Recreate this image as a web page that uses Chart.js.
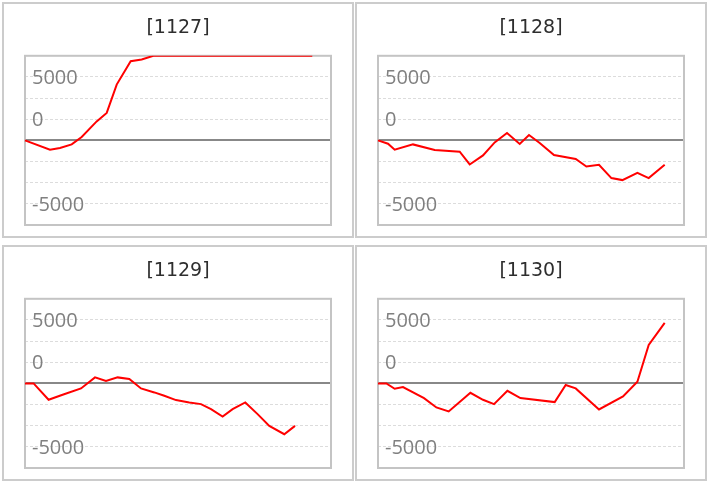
<!DOCTYPE html>
<html>
<head>
<meta charset="utf-8">
<script src="https://cdn.jsdelivr.net/npm/chart.js@4/dist/chart.umd.min.js"></script>
<style>
  html, body { margin: 0; padding: 0; background: #fff; }
  body { width: 709px; height: 485px; position: relative; overflow: hidden; }
  .panel { position: absolute; width: 348px; height: 232px; border: 2px solid #cccccc; background: #fff; }
  .panel canvas { display: block; }
</style>
</head>
<body>
<div class="panel" style="left:2px;top:2px"><canvas id="c0" width="348" height="232"></canvas></div>
<div class="panel" style="left:355px;top:2px"><canvas id="c1" width="348" height="232"></canvas></div>
<div class="panel" style="left:2px;top:245px"><canvas id="c2" width="348" height="232"></canvas></div>
<div class="panel" style="left:355px;top:245px"><canvas id="c3" width="348" height="232"></canvas></div>
<script>
// ---- data (games played vs. coin difference) ----
const titles = ['[1127]', '[1128]', '[1129]', '[1130]'];

const games1127 = [0, 735, 1029, 1373, 1667, 2108, 2403, 2697, 3108, 3432, 3775, 8450];
const diff1127  = [0, -735, -600, -316, 268, 1500, 2165, 4400, 6240, 6375, 6667, 6667];

const games1128 = [0, 294, 491, 1029, 1667, 2403, 2697, 3088, 3432, 3794, 4168, 4441, 4756, 5176, 5815, 6129, 6500, 6865, 7188, 7629, 7962, 8432];
const diff1128  = [0, -260, -735, -316, -758, -893, -1896, -1185, -158, 585, -284, 427, -205, -1153, -1469, -2054, -1920, -2970, -3128, -2552, -2970, -1920];

const games1129 = [0, 253, 694, 1106, 1647, 2059, 2382, 2724, 3068, 3412, 3804, 4097, 4441, 4832, 5176, 5471, 5812, 6106, 6479, 6841, 7185, 7626, 7941];
const diff1129  = [0, 0, -1290, -895, -395, 474, 184, 474, 342, -395, -711, -974, -1316, -1501, -1632, -2027, -2607, -2027, -1501, -2422, -3345, -4002, -3345];

const games1130 = [0, 247, 491, 735, 1353, 1717, 2079, 2718, 3088, 3412, 3806, 4188, 5197, 5521, 5815, 6500, 7206, 7629, 7962, 8432];
const diff1130  = [0, 0, -421, -290, -1158, -1896, -2212, -737, -1290, -1632, -580, -1158, -1474, -131, -395, -2054, -1027, 132, 3027, 4766];

const gridValues = [-6667, -5000, -3333, -1667, 0, 1667, 3333, 5000, 6667];
const tickValues = [5000, 1667, -5000];
const tickLabels = ['5000', '0', '-5000'];

const yMin = -6667, yMax = 6667;
const xMin = 0, xMax = 9000;

const seriesX = [games1127, games1128, games1129, games1130];
const seriesY = [diff1127, diff1128, diff1129, diff1130];

// frame around plot area
const framePlugin = {
  id: 'frame',
  beforeDatasetsDraw(chart) {
    const a = chart.chartArea, ctx = chart.ctx;
    ctx.save();
    ctx.strokeStyle = '#c4c4c4';
    ctx.lineWidth = 2;
    ctx.strokeRect(a.left, a.top, a.right - a.left, a.bottom - a.top);
    ctx.restore();
  }
};

seriesX.forEach((xs, p) => {
  const pts = xs.map((x, i) => ({ x: x, y: seriesY[p][i] }));
  new Chart(document.getElementById('c' + p), {
    type: 'scatter',
    data: {
      datasets: [{
        data: pts,
        showLine: true,
        borderColor: '#ff0000',
        borderWidth: 2,
        pointRadius: 0,
        pointHoverRadius: 0,
        tension: 0,
        clip: { left: 2, top: 0, right: 0, bottom: 0 }
      }]
    },
    options: {
      responsive: false,
      animation: false,
      events: [],
      layout: { padding: { left: 21, right: 21, top: 0, bottom: 11 } },
      plugins: {
        legend: { display: false },
        tooltip: { enabled: false },
        title: {
          display: true,
          text: titles[p],
          color: '#2e2e2e',
          font: { family: 'DejaVu Sans', size: 19, weight: 'normal', lineHeight: 1.2 },
          padding: { top: 13, bottom: 16 }
        }
      },
      scales: {
        x: { type: 'linear', min: xMin, max: xMax, display: false },
        y: {
          type: 'linear',
          min: yMin,
          max: yMax,
          afterBuildTicks: (s) => { s.ticks = gridValues.map(v => ({ value: v })); },
          afterFit: (s) => { s.paddingTop = 0; s.paddingBottom = 0; s.width = 0; },
          border: {
            display: false,
            dash: (ctx) => (ctx.tick && ctx.tick.value === 0) ? [] : [3, 2]
          },
          grid: {
            drawTicks: false,
            color: (ctx) => {
              if (!ctx.tick) return '#dddddd';
              if (ctx.tick.value === 0) return '#888888';
              if (ctx.tick.value === yMin || ctx.tick.value === yMax) return 'rgba(0,0,0,0)';
              return '#dcdcdc';
            },
            lineWidth: (ctx) => (ctx.tick && ctx.tick.value === 0) ? 2 : 1
          },
          ticks: {
            autoSkip: false,
            mirror: true,
            padding: 7,
            labelOffset: 1,
            color: '#808080',
            font: { family: 'Open Sans', size: 20 },
            callback: (value) => {
              const k = tickValues.indexOf(value);
              return k >= 0 ? tickLabels[k] : '';
            }
          }
        }
      }
    },
    plugins: [framePlugin]
  });
});
</script>
</body>
</html>
